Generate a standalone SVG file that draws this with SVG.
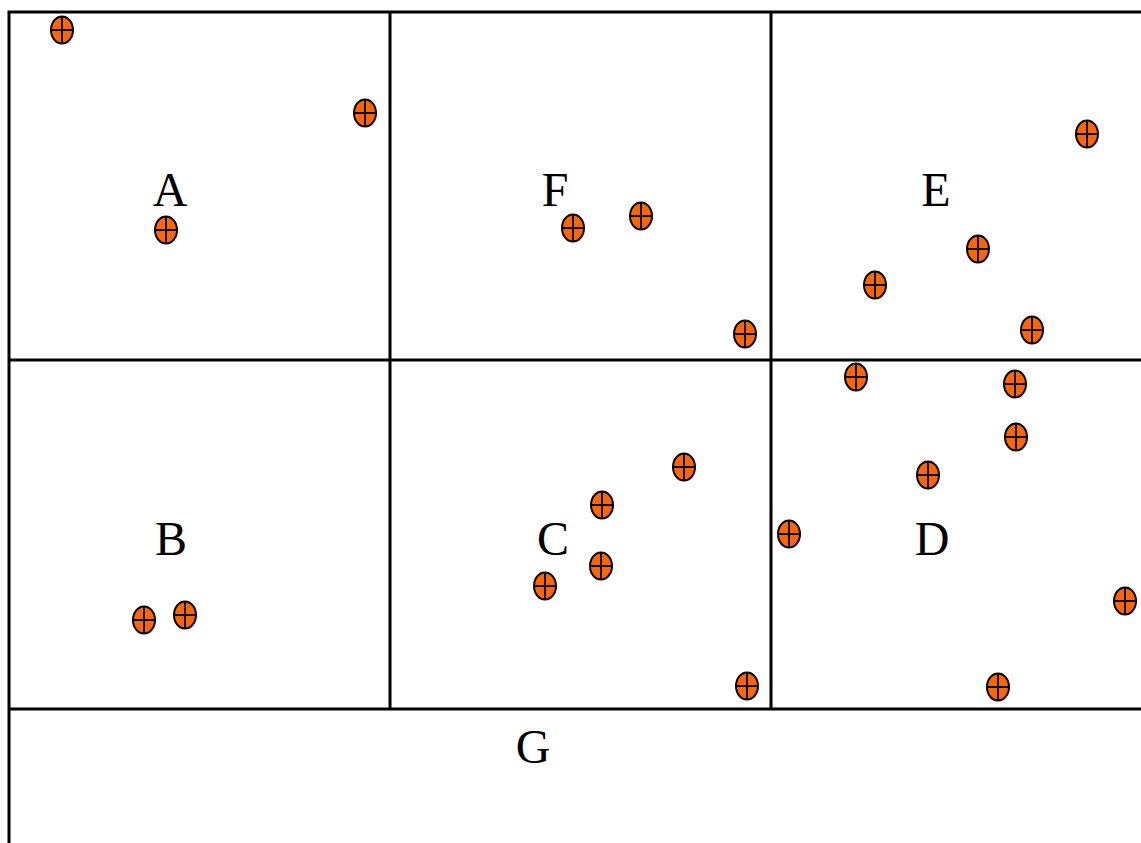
<svg xmlns="http://www.w3.org/2000/svg" width="1141" height="843" viewBox="0 0 1141 843">
<defs>
<style>
.ln{stroke:#000;stroke-width:3;fill:none}
.lbl{font-family:"Liberation Serif","Times New Roman",serif;font-size:48px;fill:#000;text-anchor:middle}
.m ellipse{fill:#ff6600;stroke:#000;stroke-width:2}
.m path{stroke:#000;stroke-width:2;fill:none}
</style>
<g id="pt" class="m"><ellipse cx="0" cy="0" rx="11" ry="13.5"/><path d="M-11 0H11M0 -13.5V13.5"/></g>
</defs>
<rect width="1141" height="843" fill="#fff"/>
<g id="grid">
<path class="ln" d="M9 843V12H1141M9 360H1141M9 709H1141M390 12V709M771 12V709"/>
</g>
<g id="A"><text class="lbl" x="170" y="206">A</text></g>
<g id="F"><text class="lbl" x="555" y="206">F</text></g>
<g id="E"><text class="lbl" x="936" y="206">E</text></g>
<g id="B"><text class="lbl" x="171" y="555">B</text></g>
<g id="C"><text class="lbl" x="553" y="555">C</text></g>
<g id="D"><text class="lbl" x="932" y="555">D</text></g>
<g id="G"><text class="lbl" x="533" y="763">G</text></g>
<g id="points">
<use href="#pt" x="62" y="30"/>
<use href="#pt" x="365" y="113"/>
<use href="#pt" x="166" y="230"/>
<use href="#pt" x="573" y="228"/>
<use href="#pt" x="641" y="216"/>
<use href="#pt" x="745" y="334"/>
<use href="#pt" x="1087" y="134"/>
<use href="#pt" x="978" y="249"/>
<use href="#pt" x="875" y="285"/>
<use href="#pt" x="1032" y="330"/>
<use href="#pt" x="856" y="377"/>
<use href="#pt" x="1015" y="384"/>
<use href="#pt" x="1016" y="437"/>
<use href="#pt" x="928" y="475"/>
<use href="#pt" x="789" y="534"/>
<use href="#pt" x="1125" y="601"/>
<use href="#pt" x="998" y="687"/>
<use href="#pt" x="684" y="467"/>
<use href="#pt" x="602" y="505"/>
<use href="#pt" x="601" y="566"/>
<use href="#pt" x="545" y="586"/>
<use href="#pt" x="747" y="686"/>
<use href="#pt" x="144" y="620"/>
<use href="#pt" x="185" y="615"/>
</g>
</svg>
